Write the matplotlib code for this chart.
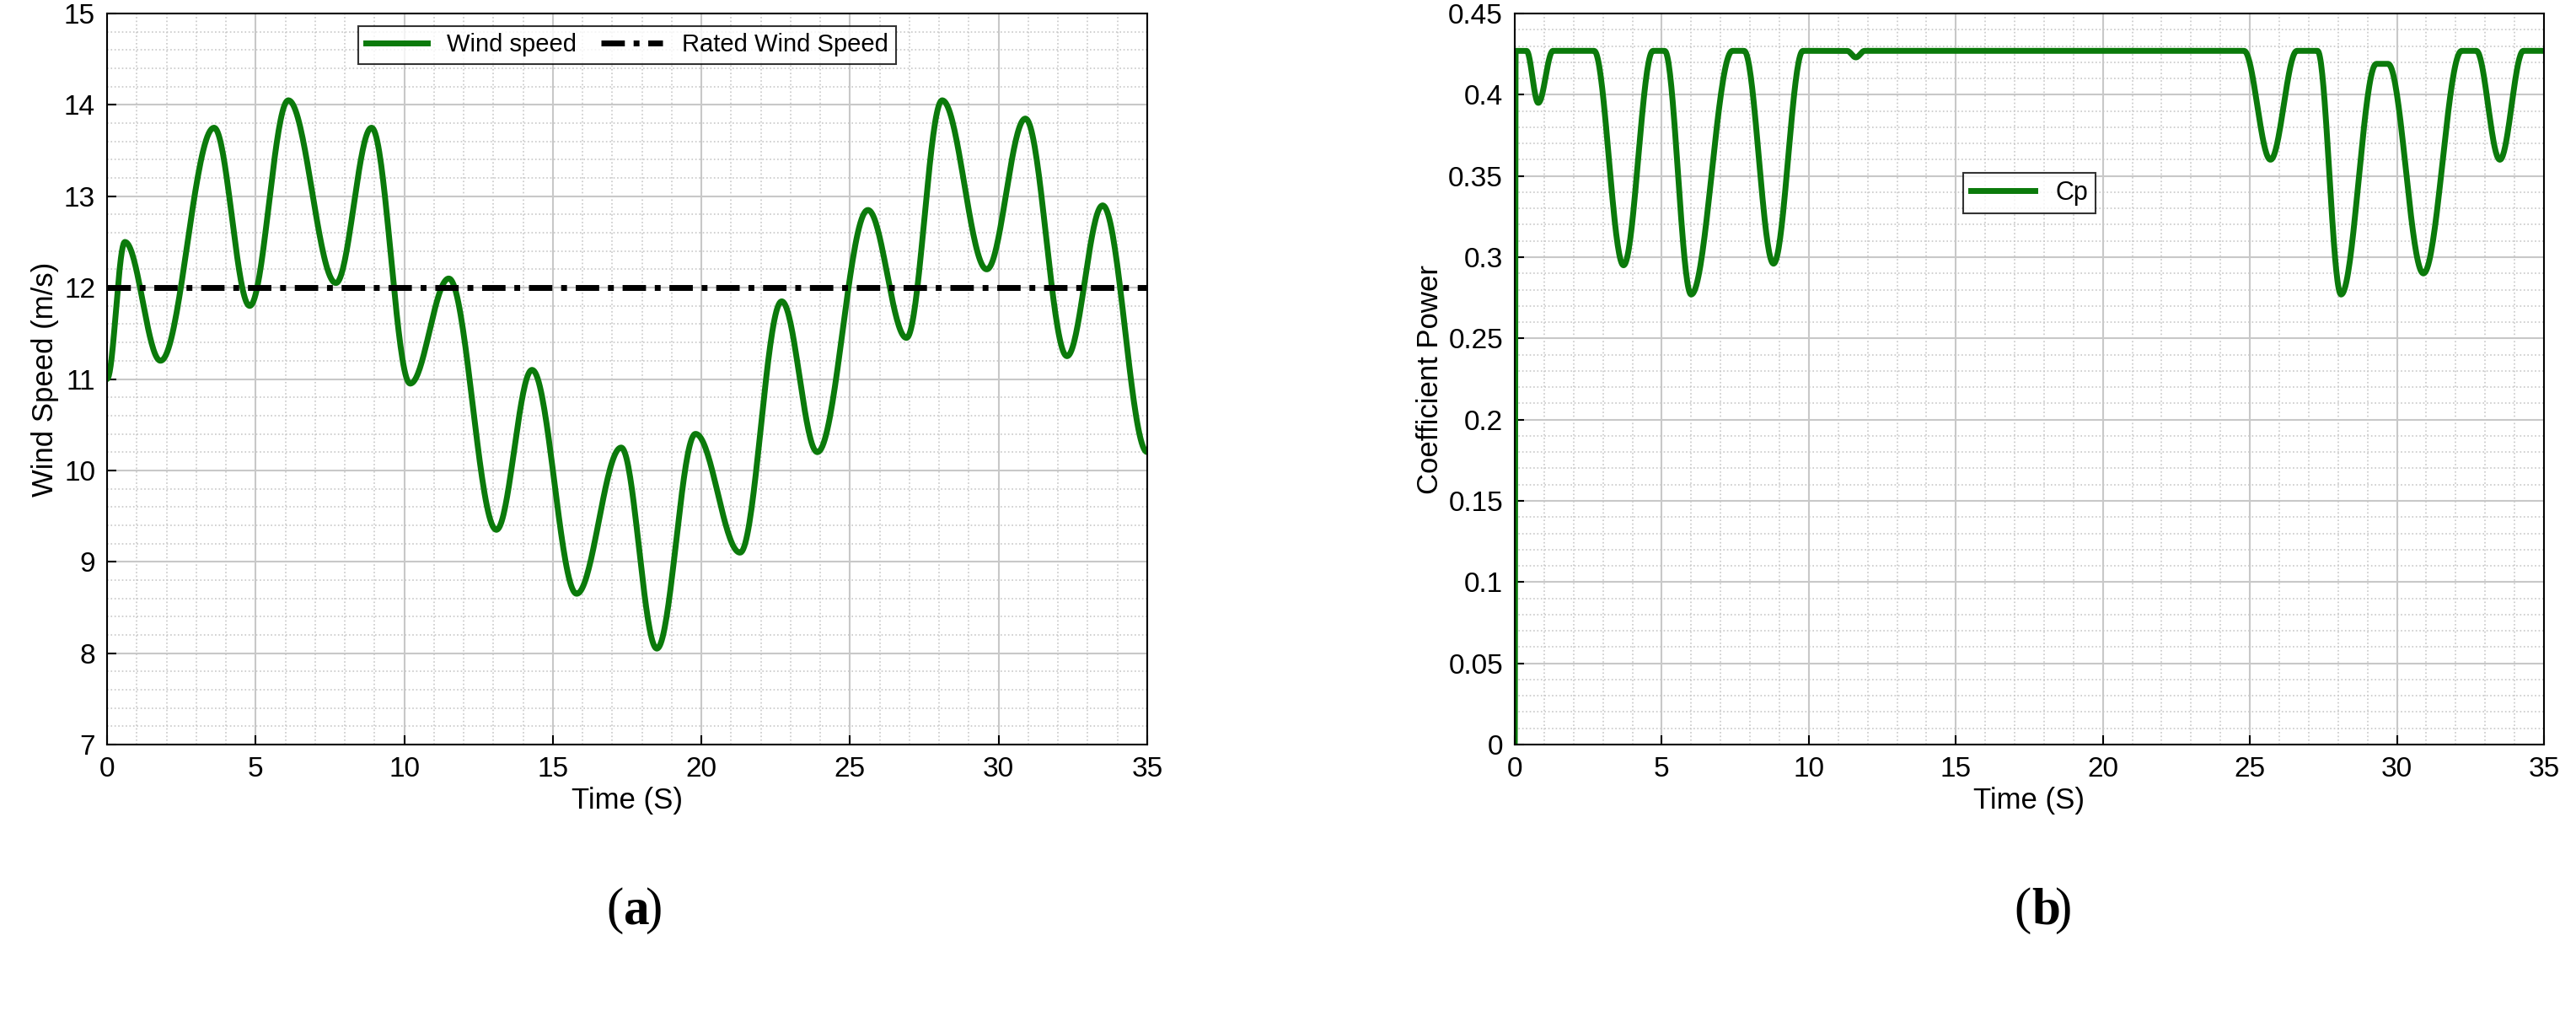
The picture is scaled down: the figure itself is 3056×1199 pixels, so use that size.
import numpy as np
import matplotlib
matplotlib.use("Agg")
import matplotlib.pyplot as plt
from matplotlib.ticker import MultipleLocator

plt.rcParams['font.family'] = ['Liberation Sans', 'DejaVu Sans']

# Wind speed extrema (time s, m/s)
wind_t = [0, 0.6, 1.8, 3.6, 4.8, 6.1, 7.7, 8.9, 10.2, 11.5, 13.1, 14.3, 15.8, 17.3, 18.5,
          19.8, 21.3, 22.7, 23.9, 25.6, 26.9, 28.1, 29.6, 30.9, 32.3, 33.5, 35]
wind_v = [11.0, 12.5, 11.2, 13.75, 11.8, 14.05, 12.05, 13.75, 10.95, 12.1, 9.35, 11.1, 8.65, 10.25, 8.05,
          10.4, 9.1, 11.85, 10.2, 12.85, 11.45, 14.05, 12.2, 13.85, 11.25, 12.9, 10.2]
rated = 12.0

# Cp key points
cp_t = [0, 0.03, 0.4, 0.8, 1.3, 2.7, 3.7, 4.7, 5.1, 6.0, 7.4, 7.8, 8.8, 9.8, 11.3, 11.6, 11.9,
        24.8, 25.7, 26.6, 27.3, 28.1, 29.3, 29.7, 30.9, 32.2, 32.7, 33.5, 34.3, 35]
cp_v = [0, 0.427, 0.427, 0.395, 0.427, 0.427, 0.295, 0.427, 0.427, 0.277, 0.427, 0.427, 0.296, 0.427, 0.427, 0.423, 0.427,
        0.427, 0.36, 0.427, 0.427, 0.277, 0.419, 0.419, 0.29, 0.427, 0.427, 0.36, 0.427, 0.427]

def smooth(tk, vk, n=40):
    ts, vs = [], []
    for i in range(len(tk) - 1):
        s = np.linspace(0, 1, n, endpoint=False)
        w = (1 - np.cos(np.pi * s)) / 2
        ts.append(tk[i] + (tk[i+1] - tk[i]) * s)
        vs.append(vk[i] + (vk[i+1] - vk[i]) * w)
    ts.append([tk[-1]]); vs.append([vk[-1]])
    return np.concatenate(ts), np.concatenate(vs)

green = '#0b7a0b'
fig = plt.figure(figsize=(30.56, 11.99), dpi=100)
ax1 = fig.add_axes([127/3056, 1-883/1199, 1234/3056, 867/1199])
ax2 = fig.add_axes([1797/3056, 1-883/1199, 1221/3056, 867/1199])

def style(ax):
    ax.grid(which='major', color='#c8c8c8', linewidth=1.5)
    ax.grid(which='minor', color='#c8c8c8', linestyle=':', linewidth=1.2)
    ax.tick_params(labelsize=24, direction='in', length=8, width=1.5, pad=10)
    ax.tick_params(which='minor', length=0)
    for s in ax.spines.values():
        s.set_linewidth(1.5)
    ax.set_axisbelow(True)

t, v = smooth(wind_t, wind_v)
ax1.plot(t, v, color=green, lw=5, label='Wind speed')
ax1.plot([0, 35], [rated, rated], color='black', lw=5, ls=(0, (4, 1.5, 1, 1.5)), label='Rated Wind Speed')
ax1.set_xlim(0, 35); ax1.set_ylim(7, 15)
ax1.xaxis.set_major_locator(MultipleLocator(5)); ax1.xaxis.set_minor_locator(MultipleLocator(1))
ax1.yaxis.set_major_locator(MultipleLocator(1)); ax1.yaxis.set_minor_locator(MultipleLocator(0.2))
ax1.set_xlabel('Time (S)', fontsize=25); ax1.set_ylabel('Wind Speed (m/s)', fontsize=25)
style(ax1)
ax1.legend(loc='upper center', fontsize=21, ncol=2, fancybox=False, edgecolor='black',
           handlelength=2.5, columnspacing=1.0, borderpad=0.3).get_frame().set_linewidth(1.5)

t2, c2 = smooth(cp_t, cp_v)
ax2.plot(t2, c2, color=green, lw=5, label='Cp')
ax2.set_xlim(0, 35); ax2.set_ylim(0, 0.45)
ax2.xaxis.set_major_locator(MultipleLocator(5)); ax2.xaxis.set_minor_locator(MultipleLocator(1))
ax2.yaxis.set_major_locator(MultipleLocator(0.05)); ax2.yaxis.set_minor_locator(MultipleLocator(0.01))
ax2.set_yticklabels([f'{x:g}' for x in ax2.get_yticks()])
ax2.set_xlabel('Time (S)', fontsize=25); ax2.set_ylabel('Coefficient Power', fontsize=25)
style(ax2)
ax2.legend(loc='upper center', bbox_to_anchor=(0.5, 0.8), fontsize=22, fancybox=False, edgecolor='black',
           handlelength=2.5, borderpad=0.3).get_frame().set_linewidth(1.5)

fig.text(740/3056, 1-1080/1199, '(', fontsize=44, family='Liberation Serif', ha='right', va='center')
fig.text(740/3056, 1-1080/1199, 'a', fontsize=44, family='Liberation Serif', weight='bold', ha='left', va='center')
fig.text(765/3056, 1-1080/1199, ')', fontsize=44, family='Liberation Serif', ha='left', va='center')
fig.text(2410/3056, 1-1080/1199, '(', fontsize=44, family='Liberation Serif', ha='right', va='center')
fig.text(2410/3056, 1-1080/1199, 'b', fontsize=44, family='Liberation Serif', weight='bold', ha='left', va='center')
fig.text(2437/3056, 1-1080/1199, ')', fontsize=44, family='Liberation Serif', ha='left', va='center')

fig.savefig('out.png', dpi=100)
